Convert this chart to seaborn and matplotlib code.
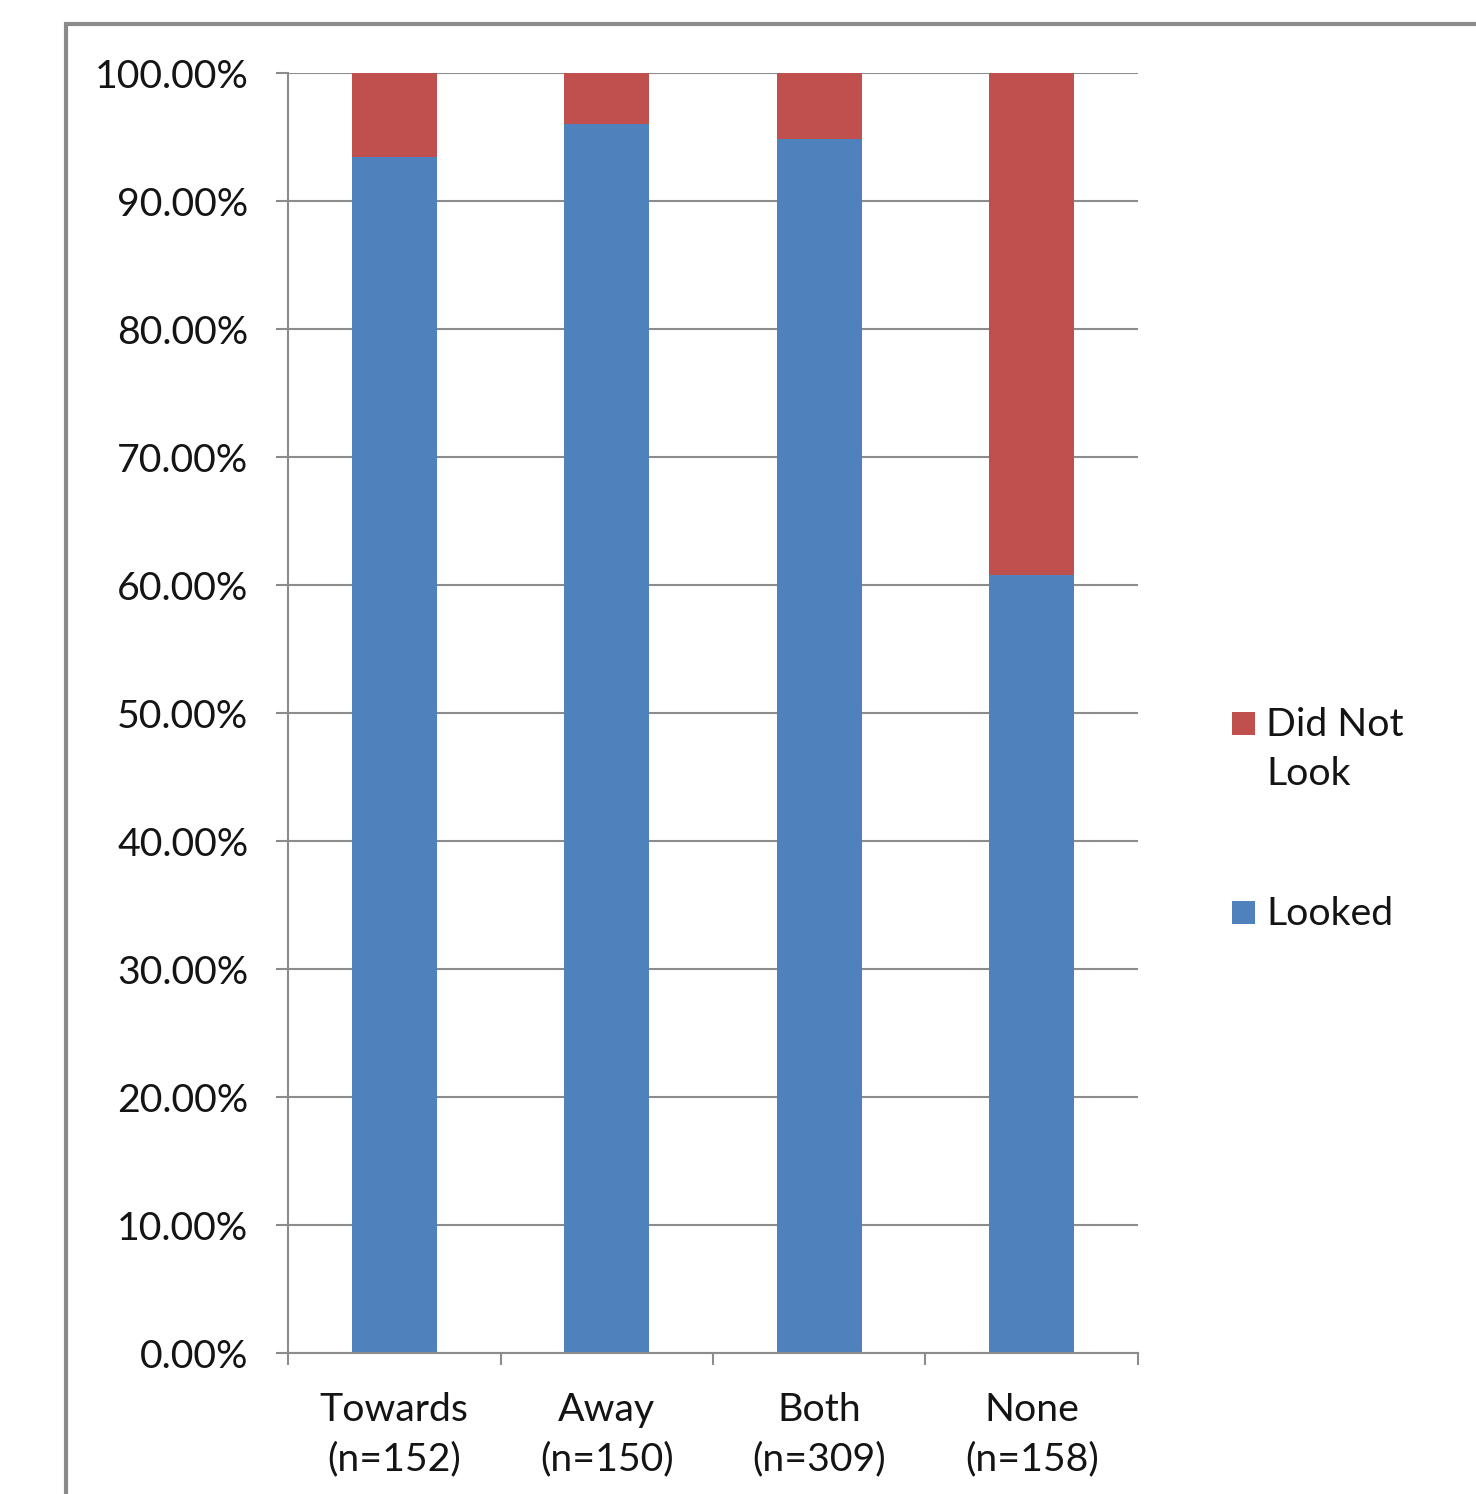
import matplotlib
matplotlib.use("Agg")
import matplotlib.pyplot as plt
from matplotlib.patches import Rectangle
from matplotlib.ticker import FuncFormatter, FixedLocator
import seaborn as sns
import pandas as pd

# Viewing groups, sample sizes and share of people who looked
groups = ["Towards", "Away", "Both", "None"]
n_counts = [152, 150, 309, 158]
looked = [142 / 152, 144 / 150, 293 / 309, 96 / 158]
did_not_look = [1 - v for v in looked]

labels = [f"{g}\n(n={n})" for g, n in zip(groups, n_counts)]
series_names = ["Did Not\nLook", "Looked"]

BLUE = "#4F81BD"
RED = "#C0504D"
GRID = "#8C8C8C"
TEXT = "#141414"

sns.set_theme(style="white")
plt.rcParams["font.family"] = ["Lato", "DejaVu Sans"]
FS = 28.3

df = pd.DataFrame({
    "label": labels,
    "looked": looked,
    "total": [a + b for a, b in zip(looked, did_not_look)],
})

fig = plt.figure(figsize=(14.76, 14.94), dpi=100)
ax = fig.add_axes([288 / 1476, 1 - 1353 / 1494, (1138 - 288) / 1476, (1353 - 73) / 1494])

# stacked bars: full height in red, looked share in blue on top of it
sns.barplot(data=df, x="label", y="total", color=RED, width=0.4, saturation=1,
            ax=ax, zorder=3, linewidth=0)
sns.barplot(data=df, x="label", y="looked", color=BLUE, width=0.4, saturation=1,
            ax=ax, zorder=4, linewidth=0)

ax.set_xlim(-0.5, 3.5)
ax.set_ylim(0, 1.0)
ax.set_xlabel("")
ax.set_ylabel("")

ax.yaxis.set_major_locator(FixedLocator([i / 10 for i in range(11)]))
ax.yaxis.set_major_formatter(FuncFormatter(lambda v, _: f"{v * 100:.2f}%"))
ax.yaxis.grid(True, color=GRID, linewidth=1.5, zorder=0)
ax.set_axisbelow(True)

for side in ["top", "right"]:
    ax.spines[side].set_visible(False)
for side in ["left", "bottom"]:
    ax.spines[side].set_color(GRID)
    ax.spines[side].set_linewidth(1.5)
    ax.spines[side].set_zorder(5)

ax.tick_params(axis="y", which="major", direction="out", length=8.6, width=1.5,
               color=GRID, labelsize=FS, labelcolor=TEXT, pad=20, left=True)
ax.xaxis.set_minor_locator(FixedLocator([-0.5, 0.5, 1.5, 2.5, 3.5]))
ax.tick_params(axis="x", which="major", length=0, labelsize=FS,
               labelcolor=TEXT, pad=28, bottom=True)
ax.tick_params(axis="x", which="minor", direction="out", length=8.6, width=1.5,
               color=GRID, bottom=True)
for t in ax.get_xticklabels():
    t.set_linespacing(1.45)

# legend on the right, square keys aligned with the first text line
W, H = 1476, 1494
key = 23
entries = [(series_names[0], RED, 723), (series_names[1], BLUE, 912)]
for name, col, yc in entries:
    fig.add_artist(Rectangle((1232 / W, 1 - (yc + key / 2) / H), key / W, key / H,
                             transform=fig.transFigure, facecolor=col,
                             edgecolor="none"))
    fig.text(1266 / W, 1 - (yc - 16) / H, name, fontsize=FS, color=TEXT,
             ha="left", va="top", linespacing=1.45)

# outer chart frame
fig.add_artist(Rectangle((66 / W, -0.1), 1.5, 1 - 24 / H + 0.1,
                         transform=fig.transFigure, facecolor="none",
                         edgecolor="#8a8a8a", linewidth=3))

fig.savefig("out.png", dpi=100, facecolor="white")
